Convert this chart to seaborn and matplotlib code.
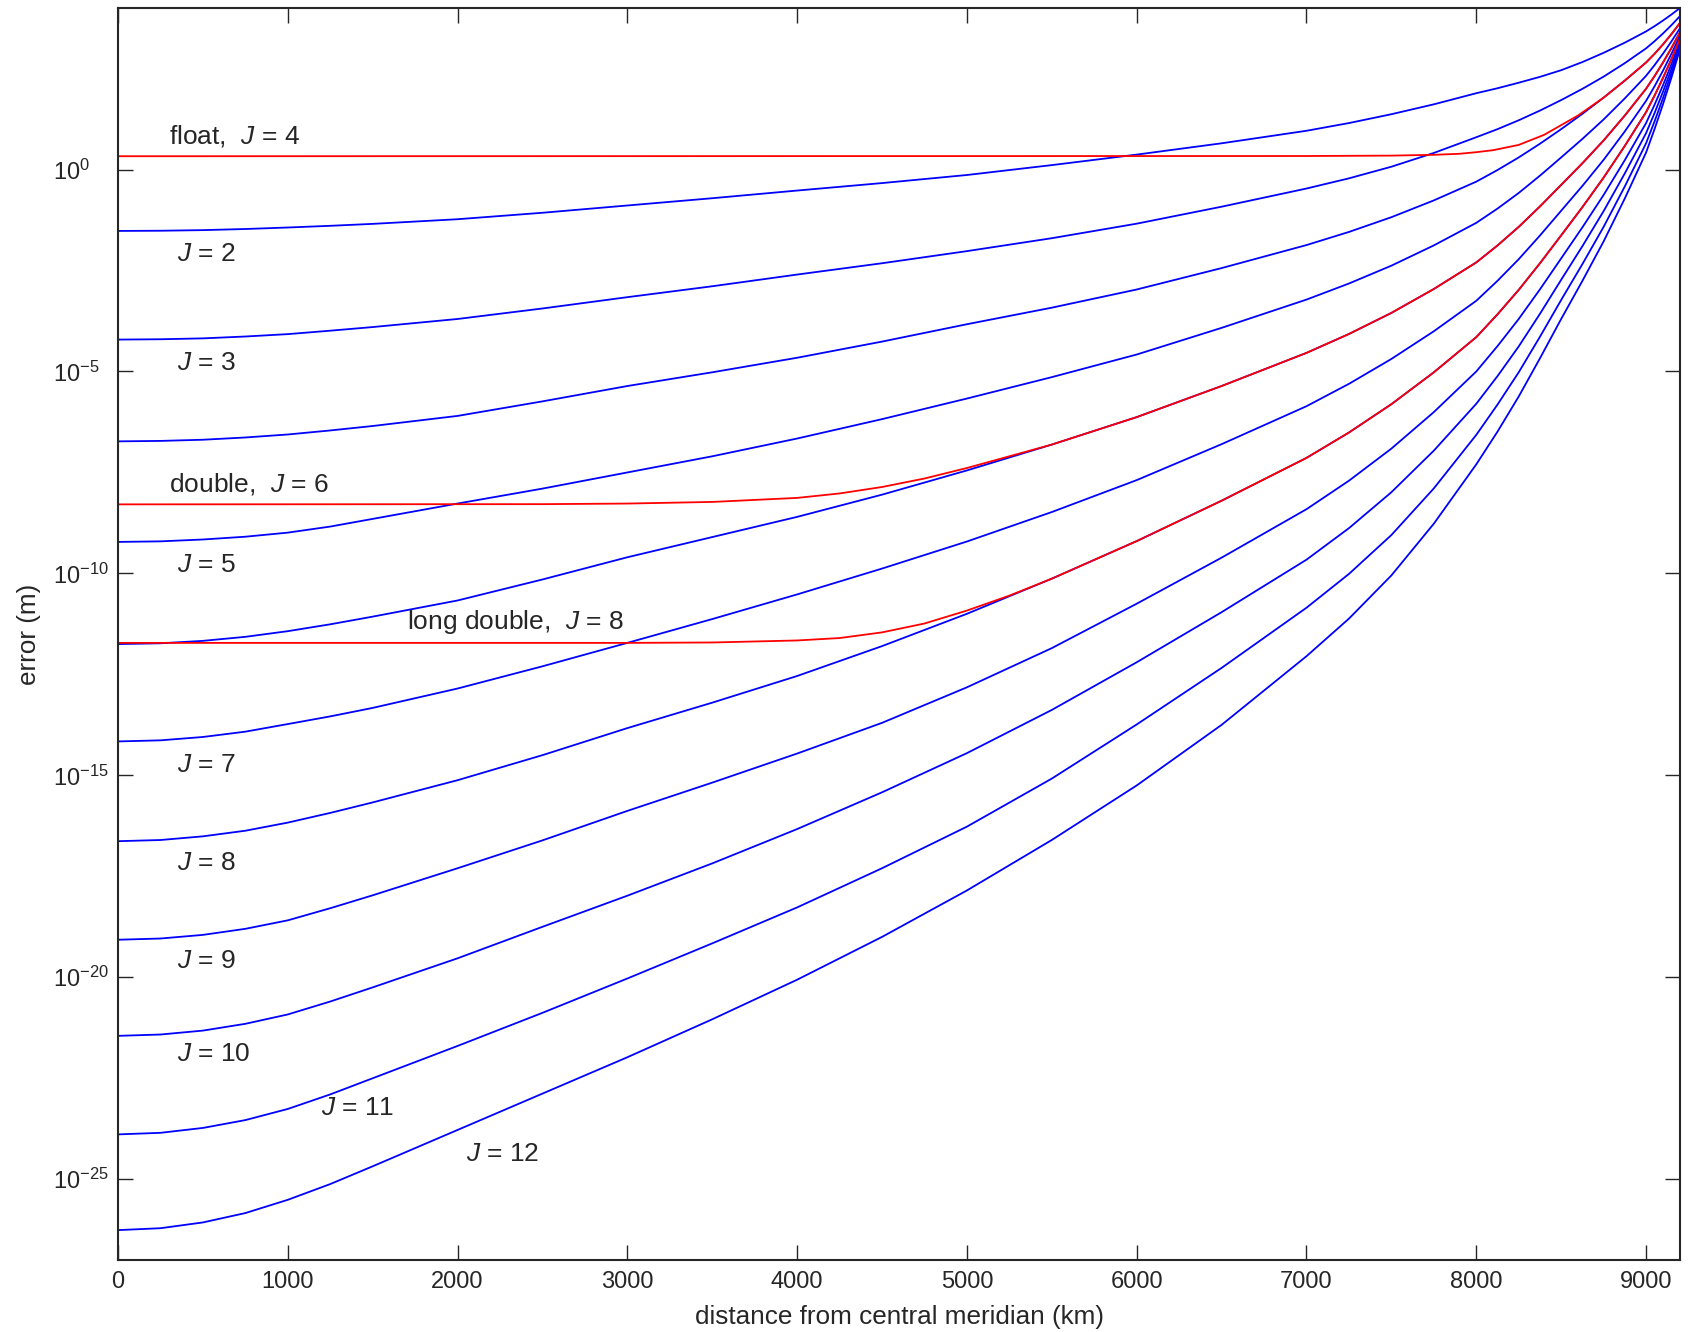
import numpy as np
import pandas as pd
import matplotlib
matplotlib.use('Agg')
import matplotlib.pyplot as plt
import matplotlib.ticker as mticker
import seaborn as sns

dist_km = [0, 250, 500, 750, 1000, 1250, 1500, 2000, 2500, 3000, 3500, 4000, 4500, 5000, 5500,
           6000, 6500, 7000, 7250, 7500, 7750, 8000, 8125, 8250, 8375, 8500, 8625, 8750,
           8875, 9000, 9050, 9100, 9150, 9200]

# log10 of the error (m), series truncated at order J
err_J2 = [-1.52, -1.515, -1.50, -1.472, -1.435, -1.393, -1.345, -1.23, -1.07, -0.89, -0.71,
          -0.52, -0.335, -0.135, 0.11, 0.37, 0.65, 0.96, 1.151, 1.37, 1.615,
          1.89, 2.013, 2.15, 2.295, 2.46, 2.661, 2.89, 3.142, 3.42, 3.55, 3.69, 3.84, 4.0]
err_J3 = [-4.21, -4.202, -4.18, -4.134, -4.075, -3.99, -3.9, -3.7, -3.44, -3.16, -2.89,
          -2.6, -2.32, -2.02, -1.7, -1.34, -0.92, -0.47, -0.218, 0.07, 0.411,
          0.8, 1.0, 1.22, 1.46, 1.72, 1.998, 2.3, 2.635, 3.0, 3.177, 3.37, 3.577, 3.8]
err_J4 = [-6.73, -6.719, -6.69, -6.634, -6.56, -6.46, -6.35, -6.1, -5.74, -5.36, -5.02,
          -4.66, -4.26, -3.83, -3.42, -2.97, -2.44, -1.87, -1.545, -1.18, -0.764,
          -0.3, -0.012, 0.3, 0.639, 1.0, 1.379, 1.78, 2.204, 2.65, 2.865, 3.1, 3.355, 3.63]
err_J5 = [-9.22, -9.206, -9.16, -9.091, -8.99, -8.84, -8.65, -8.27, -7.9, -7.5, -7.1,
          -6.66, -6.18, -5.67, -5.14, -4.58, -3.92, -3.22, -2.822, -2.38, -1.878,
          -1.32, -0.967, -0.58, -0.152, 0.3, 0.758, 1.24, 1.763, 2.32, 2.585, 2.87, 3.175, 3.5]
err_J6 = [-11.75, -11.73, -11.67, -11.57, -11.43, -11.26, -11.07, -10.67, -10.15, -9.6, -9.1,
          -8.6, -8.05, -7.45, -6.81, -6.13, -5.36, -4.54, -4.072, -3.55, -2.958,
          -2.3, -1.88, -1.42, -0.914, -0.38, 0.155, 0.72, 1.338, 2.0, 2.313, 2.65, 3.013, 3.4]
err_J7 = [-14.16, -14.133, -14.05, -13.918, -13.73, -13.54, -13.33, -12.85, -12.3, -11.72, -11.13,
          -10.52, -9.88, -9.21, -8.48, -7.69, -6.8, -5.86, -5.306, -4.69, -4.004,
          -3.25, -2.755, -2.22, -1.634, -1.02, -0.406, 0.24, 0.945, 1.7, 2.06, 2.45, 2.87, 3.32]
err_J8 = [-16.63, -16.601, -16.51, -16.371, -16.17, -15.93, -15.67, -15.12, -14.5, -13.83, -13.2,
          -12.54, -11.8, -11.0, -10.13, -9.2, -8.2, -7.14, -6.512, -5.81, -5.021,
          -4.15, -3.585, -2.98, -2.321, -1.63, -0.932, -0.2, 0.586, 1.42, 1.83, 2.27, 2.74, 3.24]
err_J9 = [-19.07, -19.04, -18.95, -18.8, -18.59, -18.29, -17.97, -17.3, -16.61, -15.88, -15.18,
          -14.46, -13.7, -12.82, -11.85, -10.75, -9.61, -8.41, -7.705, -6.91, -6.006,
          -5.0, -4.372, -3.7, -2.967, -2.2, -1.432, -0.63, 0.234, 1.15, 1.603, 2.09, 2.613, 3.17]
err_J10 = [-21.45, -21.417, -21.32, -21.152, -20.92, -20.6, -20.25, -19.53, -18.75, -17.98, -17.18,
           -16.33, -15.42, -14.45, -13.38, -12.2, -10.96, -9.66, -8.88, -7.99, -6.96,
           -5.8, -5.115, -4.38, -3.573, -2.73, -1.898, -1.03, -0.094, 0.9, 1.397, 1.93, 2.497, 3.1]
err_J11 = [-23.89, -23.851, -23.73, -23.536, -23.26, -22.9, -22.5, -21.7, -20.88, -20.03, -19.16,
           -18.27, -17.3, -16.27, -15.08, -13.74, -12.34, -10.85, -10.013, -9.05, -7.895,
           -6.57, -5.82, -5.02, -4.141, -3.23, -2.342, -1.42, -0.417, 0.65, 1.191, 1.77, 2.386, 3.04]
err_J12 = [-26.26, -26.213, -26.07, -25.838, -25.51, -25.12, -24.68, -23.78, -22.88, -21.98, -21.04,
           -20.06, -19.0, -17.85, -16.6, -15.25, -13.75, -12.05, -11.12, -10.05, -8.769,
           -7.3, -6.49, -5.62, -4.675, -3.7, -2.758, -1.78, -0.715, 0.42, 1.0, 1.62, 2.28, 2.98]

# finite precision runs: flat round-off part, then they sit on the J = 4, 6, 8 curves
i_float = dist_km.index(8750)
float_km = [0, 7000, 7500, 7750, 7900, 8000, 8100, 8250, 8400, 8500, 8600] + dist_km[i_float:]
float_err = [0.33, 0.335, 0.345, 0.365, 0.39, 0.43, 0.48, 0.61, 0.86, 1.1, 1.34] + err_J4[i_float:]

i_dbl = dist_km.index(5500)
double_km = [0, 2500, 3000, 3500, 4000, 4250, 4500, 4750, 5000] + dist_km[i_dbl:]
double_err = [-8.29, -8.285, -8.27, -8.23, -8.13, -8.02, -7.86, -7.65, -7.39] + err_J6[i_dbl:]

ldouble_km = [0, 3000, 3500, 4000, 4250, 4500, 4750, 5000, 5250] + dist_km[i_dbl:]
ldouble_err = [-11.72, -11.72, -11.71, -11.66, -11.6, -11.46, -11.24, -10.92, -10.55] + err_J8[i_dbl:]

# labels: text, x (km), log10 y
label_text = [r'float,  $J$ = 4', r'$J$ = 2', r'$J$ = 3', r'double,  $J$ = 6', r'$J$ = 5',
              r'long double,  $J$ = 8', r'$J$ = 7', r'$J$ = 8', r'$J$ = 9', r'$J$ = 10',
              r'$J$ = 11', r'$J$ = 12']
label_x = [300, 347, 347, 300, 347, 1702, 347, 347, 347, 347, 1195, 2050]
label_y = [0.83, -2.1, -4.8, -7.79, -9.8, -11.21, -14.75, -17.17, -19.6, -21.89, -23.23, -24.37]


sns.set_style('ticks')
plt.rcParams['font.family'] = ['Liberation Sans', 'DejaVu Sans']
plt.rcParams['mathtext.fontset'] = 'custom'
plt.rcParams['mathtext.rm'] = 'Liberation Sans'
plt.rcParams['mathtext.it'] = 'Liberation Sans:italic'
plt.rcParams['axes.linewidth'] = 1.5

tick_fs = 17
text_fs = 19
label_fs = 18.8

# long form table of the truncation curves
trunc = {2: err_J2, 3: err_J3, 4: err_J4, 5: err_J5, 6: err_J6, 7: err_J7,
         8: err_J8, 9: err_J9, 10: err_J10, 11: err_J11, 12: err_J12}
rows = []
for J, vals in trunc.items():
    assert len(vals) == len(dist_km), J
    for d, v in zip(dist_km, vals):
        rows.append({'J': J, 'dist': d, 'err': 10.0 ** v})
df = pd.DataFrame(rows)

fig = plt.figure(figsize=(16.92, 13.32), dpi=100)
ax = fig.add_axes([118 / 1692, 1 - 1260 / 1332, 1562 / 1692, 1252 / 1332])

sns.lineplot(data=df, x='dist', y='err', units='J', estimator=None, sort=False,
             color='#0000ff', lw=1.3, ax=ax, legend=False)

for km, vals in [(float_km, float_err), (double_km, double_err), (ldouble_km, ldouble_err)]:
    sns.lineplot(x=km, y=10.0 ** np.array(vals), color='#ff0000', lw=1.3, ax=ax,
                 estimator=None, sort=False)

ax.set_yscale('log')
ax.set_xlim(0, 9200)
ax.set_ylim(1e-27, 1e4)

for t, x, y in zip(label_text, label_x, label_y):
    ax.text(x, 10.0 ** y, t, fontsize=text_fs, ha='left', va='center')

ax.set_xticks(range(0, 9001, 1000))
ax.set_yticks([10.0 ** k for k in range(0, -26, -5)])
ax.yaxis.set_minor_locator(mticker.NullLocator())
ax.xaxis.set_minor_locator(mticker.NullLocator())
ax.yaxis.set_major_formatter(mticker.FuncFormatter(lambda v, p: r'$10^{%d}$' % round(np.log10(v))))

ax.tick_params(direction='in', length=11, width=1.0, top=True, right=True, labelsize=tick_fs)
ax.tick_params(axis='x', pad=8)
ax.tick_params(axis='y', pad=47)
plt.setp(ax.get_yticklabels(), ha='left')

ax.set_xlabel('distance from central meridian (km)', fontsize=label_fs)
ax.set_ylabel('error (m)', fontsize=label_fs)
ax.xaxis.set_label_coords(0.5, -0.036)
ax.yaxis.set_label_coords(-0.0495, 0.5)

fig.savefig('out.png', dpi=100, facecolor='white')
